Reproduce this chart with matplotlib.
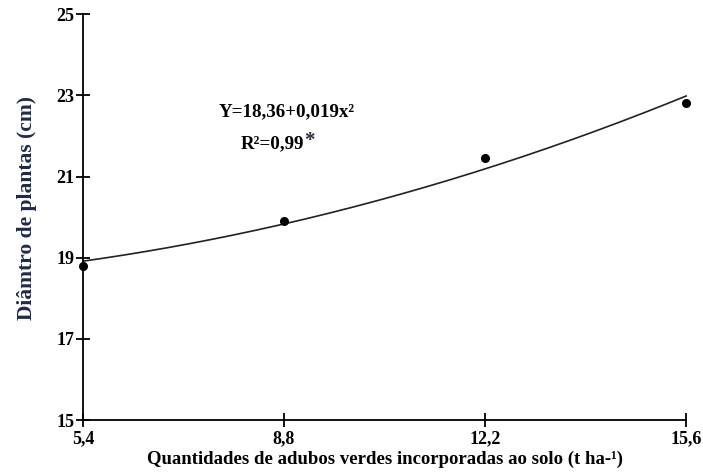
import numpy as np
import matplotlib
matplotlib.use("Agg")
import matplotlib.pyplot as plt

# green manure rates (t/ha) and mean plant diameter (cm)
doses = [5.4, 8.8, 12.2, 15.6]
diametro = [18.8, 19.9, 21.45, 22.8]
dose_labels = ["5,4", "8,8", "12,2", "15,6"]
y_ticks = [15, 17, 19, 21, 23, 25]

# fitted quadratic: Y = b0 + b2 * x^2
b0, b2 = 18.36, 0.019

plt.rcParams["font.family"] = ["Liberation Serif", "DejaVu Serif"]
plt.rcParams["font.weight"] = "bold"

fig = plt.figure(figsize=(7.03, 4.73), dpi=100)
ax = fig.add_axes([0.118, 0.112, 0.858, 0.858])

xs = np.linspace(doses[0], doses[-1], 200)
ax.plot(xs, b0 + b2 * xs ** 2, color="#222222", lw=1.2, clip_on=False)
ax.plot(doses, diametro, "o", color="black", ms=5.5, clip_on=False, zorder=5)

ax.set_xlim(doses[0], doses[-1])
ax.set_ylim(15, 25)
ax.set_xticks(doses)
ax.set_xticklabels(dose_labels)
ax.set_yticks(y_ticks)
ax.set_yticklabels([str(v) for v in y_ticks])

for side in ("top", "right"):
    ax.spines[side].set_visible(False)
for side in ("left", "bottom"):
    ax.spines[side].set_linewidth(1.3)
ax.tick_params(direction="inout", length=10, width=1.3, labelsize=13, pad=1)
ax.tick_params(axis="x", pad=2)

ax.set_xlabel("Quantidades de adubos verdes incorporadas ao solo (t ha-¹)",
              fontsize=13.5, fontweight="bold", labelpad=3)
ax.set_ylabel("Diâmtro de plantas (cm)", fontsize=15.5, fontweight="bold",
              color="#1f2a4a")
ax.yaxis.set_label_coords(-0.077, 0.522)

ax.text(8.85, 22.59, "Y=18,36+0,019x²", fontsize=13.7, fontweight="bold",
        ha="center", va="center")
r2 = ax.text(8.60, 21.82, "R²=0,99", fontsize=13.7, fontweight="bold",
             ha="center", va="center")
ax.annotate("*", xy=(1, 1.2), xycoords=r2, xytext=(0, 0),
            textcoords="offset points", fontsize=15, fontweight="bold",
            ha="left", va="top", color="#2a2a3a")

fig.savefig("out.png", dpi=100, facecolor="white")
